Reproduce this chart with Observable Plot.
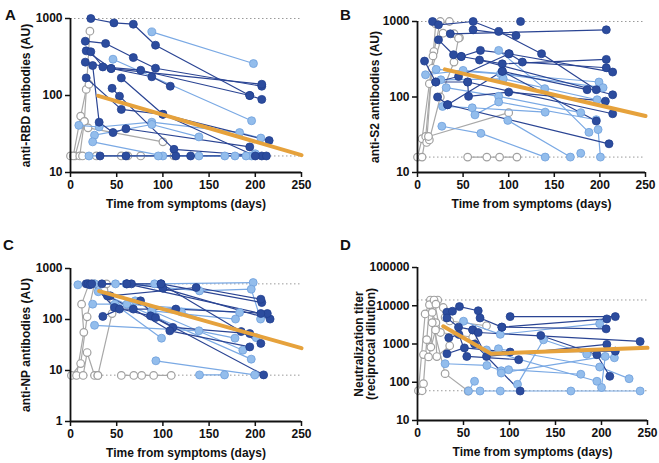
<!DOCTYPE html>
<html><head><meta charset="utf-8">
<script src="https://cdn.jsdelivr.net/npm/d3@7"></script>
<script src="https://cdn.jsdelivr.net/npm/@observablehq/plot@0.6"></script>
<style>
body{margin:0;background:#fff;}
#wrap{position:relative;width:659px;height:463px;font-family:"Liberation Sans",Arial,sans-serif;}
.panel{position:absolute;}
.lab{position:absolute;font-weight:bold;font-size:15px;color:#111;}
</style></head><body>
<div id="wrap"></div>
<script>
const xTicks = [0, 50, 100, 150, 200, 250];

// Panel A: anti-RBD
const rbdDark = [
  [[22,1000],[47,877],[68,843],[92,450],[194,100]],
  [[16,507],[38,474],[68,311],[92,226],[207,132]],
  [[17,380],[44,224],[207,140]],
  [[22,370],[35,235],[76,213],[194,100],[207,89]],
  [[16,271],[44,224],[88,175],[108,132]],
  [[24,245],[31,45],[46,33],[60,37],[194,21.5]],
  [[17,169],[55,66],[100,57],[215,26]],
  [[45,124],[53,98],[112,20],[207,16.4]],
  [[55,169],[100,57],[200,16.4]],
  [[32,16.4],[60,16.4],[114,16.4],[130,16.4],[212,16.4]]
];
const rbdLight = [
  [[88,670],[198,260]],
  [[46,296],[196,47]],
  [[9,41],[31,39],[88,45],[183,33],[206,28]],
  [[26,30.5],[88,42],[139,29]],
  [[24,25],[100,16.4],[167,16.4]],
  [[20,16.4],[95,16.4],[139,16.4],[196,16.4]],
  [[178,16.4],[190,16.4],[200,17.5]]
];
const rbdGray = [
  [[0,16.4],[5,16.4],[15,46],[21,684]],
  [[3,16.4],[11,54],[17,120],[20,140]],
  [[10,16.4],[15,46],[19,38],[100,25]],
  [[13,16.4],[28,16.4],[55,16.4],[62,16.4],[76,16.4],[112,16.4]]
];
const rbdTrend = [[30,99],[250,16.8]];
const rbdRefs = [1000, 16.4];

// Panel B: anti-S2
const s2Dark = [
  [[16.5,1000],[23,904],[61,1000],[89,738],[136,374],[196,125]],
  [[36,687],[207,776]],
  [[61,776],[108,653]],
  [[113,1000]],
  [[23,572],[39.5,363],[48,344],[93,275],[207,315]],
  [[7.7,299],[20,158],[45,187],[100.6,374],[115,290],[207,244]],
  [[48,344],[69,414],[100,374],[214,214]],
  [[22,100],[33,79],[93,219],[186,125]],
  [[55,158],[56,102],[100,116],[206,88]],
  [[20,158],[55,158],[214,60]],
  [[33,79],[210,24]],
  [[93,219],[196,48]],
  [[68,309],[214,107]]
];
const s2Light = [
  [[8.8,197],[50,225],[199,158]],
  [[20.5,232],[91,203],[203.5,133]],
  [[25.6,169],[94,174],[197,92]],
  [[31.5,133],[89,102],[179,62]],
  [[27.5,75],[60,72],[140,63]],
  [[63,58],[89,86],[196,50]],
  [[89,414],[139.5,129],[188,34]],
  [[26.7,41],[69.5,33],[140,16]],
  [[99,49],[167.6,16]],
  [[179,18]],
  [[198,37],[200.6,16]]
];
const s2Gray = [
  [[0,16],[5,28],[13,150],[18,400],[25,1000]],
  [[5,16],[9,30],[17,350],[20,930],[35,1000]],
  [[10,25],[16,240],[28,700],[40,690],[46,610]],
  [[13,27],[25,100],[40,290],[45,600]],
  [[12,30],[100,62]],
  [[55,16],[76,16],[90,16],[109,16]]
];
const s2Trend = [[30,232],[250,56]];
const s2Refs = [1000, 16];

// Panel C: anti-NP
const npDark = [
  [[17,500],[34,500],[61,500],[98,500],[207,215]],
  [[19,500],[66,500],[100,411],[216,102]],
  [[21,480],[43,291],[136,424],[206,250]],
  [[23,500],[47.6,172],[86.6,118],[110.8,70],[194,53]],
  [[35,115],[53,160],[114,160],[213,131]],
  [[40,290],[68,160],[107.5,60],[194,29]],
  [[75.8,232],[92,109],[209,8.2]],
  [[61,500],[206,131]],
  [[98,500],[184.7,58],[206,34]]
];
const npLight = [
  [[8,479],[26,500],[48.7,500],[91,500],[197.7,530]],
  [[24,200],[61,200],[183,137]],
  [[26,77],[139,60],[178,43]],
  [[70,232],[88,148],[178.6,102]],
  [[48,200],[98.5,43]],
  [[92.4,15.5],[199.5,8.2]],
  [[139.6,8.2],[166.7,8.2]],
  [[88,148],[186.5,25]],
  [[30,350],[195.6,16.7]],
  [[60,500],[139.6,364],[195.6,393],[205.7,102]],
  [[120,140],[201,44]]
];
const npGray = [
  [[1,8],[11,13.7],[18,113],[26,500]],
  [[6.5,8],[14.4,56],[12,200],[20,500]],
  [[13.7,8],[18,22.5],[26,8],[29.6,8]],
  [[29.6,8],[45,131],[39,500]],
  [[55,8],[68.5,8],[77,8],[90,8],[109,8]]
];
const npTrend = [[31,360],[250,27.5]];
const npRefs = [500, 8.1];

// Panel D: neutralization titer
const ntDark = [
  [[32,6800],[38,7200],[45.6,9500],[66,7400],[68,4800],[91.7,2760],[205.8,4530]],
  [[32,4800],[44.6,2760],[60,2340],[75,473],[205.8,977]],
  [[34,1450],[45,1780],[53.6,473],[110,389]],
  [[32,556],[51,790],[100.7,616],[215,650]],
  [[100.7,5200],[215,5200]],
  [[91.7,2760],[205,2490]],
  [[134,1670],[195,525],[209,143]],
  [[62,1000],[111.6,59]],
  [[60,2340],[66,2000],[242,1165]]
];
const ntLight = [
  [[50,3940],[90,1790],[198,3390]],
  [[30,305],[75.4,275],[91,200],[99,213],[177.5,162]],
  [[62,106],[55.4,59],[68,59],[90,59],[166.7,59],[242,59]],
  [[108.7,88],[137,1290],[184,540],[214,437]],
  [[88,750],[198,250],[230,124]],
  [[91,174],[204,473],[200,73]],
  [[75,700],[195,106]]
];
const ntGray = [
  [[1,60],[8.3,6100],[14,14100],[22,14100],[30,5000]],
  [[5,60],[6.5,92],[13,10700],[16,6700],[20,3600]],
  [[10,1300],[14.5,830],[18,14100],[25,2000],[60,1500]],
  [[6.5,530],[12,460],[19.6,2340],[21,470],[35,900]],
  [[16,3600],[30,168],[55,59]],
  [[20,11000],[28,9000],[35,4000],[75,3000]]
];
const ntTrend = [[28,2900],[80,556],[250,795]];
const ntRefs = [14160, 60];

const C = {
  darkFill: "#2c4c9e", darkStroke: "#22408f", darkLine: "#2a4493",
  lightFill: "#93bdec", lightStroke: "#6f9fdc", lightLine: "#7aa9e4",
  grayLine: "#a8a8a8", grayStroke: "#a0a0a0", orange: "#e6a23c"
};

function makePanel(cfg) {
  const rows = [];
  [["gray", cfg.gray], ["light", cfg.light], ["dark", cfg.dark]].forEach(([g, subs]) =>
    subs.forEach((s, i) => s.forEach(([d, v]) => rows.push({id: g + i, g, day: d, v}))));
  const sel = g => rows.filter(r => r.g === g);
  return Plot.plot({
    width: cfg.width, height: cfg.height,
    marginLeft: cfg.ml, marginRight: cfg.mr, marginTop: cfg.mt, marginBottom: cfg.mb,
    style: {fontFamily: "'Liberation Sans', Arial, sans-serif", fontSize: "12px", fontWeight: "bold", color: "#111", background: "transparent", overflow: "visible"},
    x: {domain: [0, 250]},
    y: {type: "log", domain: cfg.ydomain},
    marks: [
      Plot.ruleY(cfg.refs, {stroke: "#9a9a9a", strokeDasharray: "1.5,2.5", strokeWidth: 1}),
      Plot.line(sel("gray"), {x: "day", y: "v", z: "id", stroke: C.grayLine, strokeWidth: 1.2}),
      Plot.dot(sel("gray"), {x: "day", y: "v", r: 3.8, fill: "white", stroke: C.grayStroke, strokeWidth: 1.2}),
      Plot.line(sel("light"), {x: "day", y: "v", z: "id", stroke: C.lightLine, strokeWidth: 1.2}),
      Plot.line(sel("dark"), {x: "day", y: "v", z: "id", stroke: C.darkLine, strokeWidth: 1.2}),
      Plot.dot(sel("light"), {x: "day", y: "v", r: 4, fill: C.lightFill, stroke: C.lightStroke, strokeWidth: 0.8}),
      Plot.dot(sel("dark"), {x: "day", y: "v", r: 4, fill: C.darkFill, stroke: C.darkStroke, strokeWidth: 0.8}),
      Plot.line(cfg.trend, {stroke: C.orange, strokeWidth: 4}),
      Plot.ruleX([0], {stroke: "#111", strokeWidth: 1.8}),
      Plot.ruleY([cfg.ydomain[0]], {stroke: "#111", strokeWidth: 1.8}),
      Plot.axisX({ticks: xTicks, tickSize: 5, tickPadding: 3, strokeWidth: 1.5, label: "Time from symptoms (days)", labelAnchor: "center", labelArrow: false, labelOffset: 35}),
      Plot.axisY({ticks: cfg.yticks, tickFormat: d => String(d), tickSize: 5, tickPadding: 3, strokeWidth: 1.5, label: cfg.ylabel, labelAnchor: "center", labelArrow: false, labelOffset: cfg.yoff})
    ]
  });
}

const wrap = document.getElementById("wrap");
function place(node, left, top) {
  const d = document.createElement("div");
  d.className = "panel"; d.style.left = left + "px"; d.style.top = top + "px";
  d.appendChild(node); wrap.appendChild(d);
}
function letter(t, left, top) {
  const d = document.createElement("div");
  d.className = "lab"; d.textContent = t; d.style.left = left + "px"; d.style.top = top + "px";
  wrap.appendChild(d);
}

place(makePanel({dark: rbdDark, light: rbdLight, gray: rbdGray, trend: rbdTrend, refs: rbdRefs,
  ydomain: [10, 1000], yticks: [10, 100, 1000], ylabel: "anti-RBD antibodies (AU)", yoff: 49,
  width: 330, height: 230, ml: 70, mr: 29, mt: 18, mb: 58}), 0, 0);
place(makePanel({dark: s2Dark, light: s2Light, gray: s2Gray, trend: s2Trend, refs: s2Refs,
  ydomain: [10, 1000], yticks: [10, 100, 1000], ylabel: "anti-S2 antibodies (AU)", yoff: 47,
  width: 329, height: 230, ml: 87, mr: 14, mt: 21, mb: 58}), 330, 0);
place(makePanel({dark: npDark, light: npLight, gray: npGray, trend: npTrend, refs: npRefs,
  ydomain: [1, 1000], yticks: [1, 10, 100, 1000], ylabel: "anti-NP antibodies (AU)", yoff: 49,
  width: 330, height: 233, ml: 70, mr: 29, mt: 38, mb: 42}), 0, 230);
place(makePanel({dark: ntDark, light: ntLight, gray: ntGray, trend: ntTrend, refs: ntRefs,
  ydomain: [10, 100000], yticks: [10, 100, 1000, 10000, 100000], ylabel: "Neutralization titer\n(reciprocal dilution)", yoff: 63,
  width: 329, height: 233, ml: 87, mr: 12, mt: 37, mb: 43}), 330, 230);

letter("A", 5, 6);
letter("B", 340, 6);
letter("C", 3, 236);
letter("D", 340, 236);
</script>
</body></html>
